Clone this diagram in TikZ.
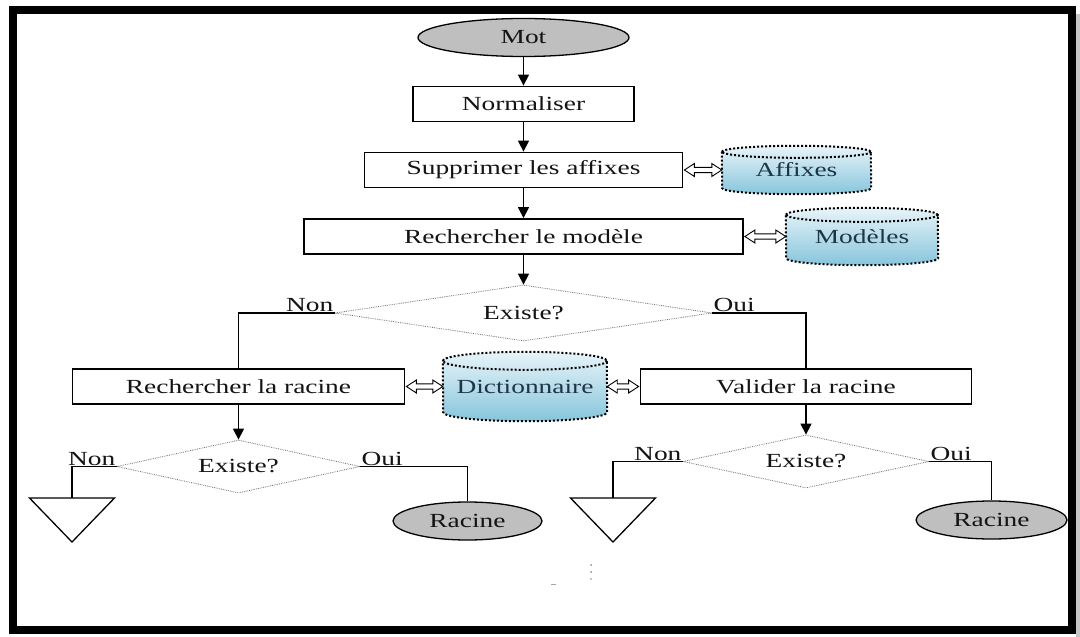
\documentclass[tikz,border=0pt]{standalone}
\usepackage{fontspec}
\usepackage{graphicx}
\setmainfont{Liberation Serif}
\usetikzlibrary{shapes.geometric,arrows.meta,calc}
\pgfdeclarelayer{background}
\pgfsetlayers{background,main}

% widened lettering used throughout the chart
\newcommand\wt[1]{\scalebox{1.37}[1]{#1}}

% database drum drawn around a named node: name, half width, end radius
\newcommand\drum[3]{%
  \begin{pgfonlayer}{background}
    \path[drumfill] ([yshift=-#3]#1.north west)
      arc[start angle=180,end angle=0,x radius=#2,y radius=#3]
      -- ([yshift=#3]#1.south east)
      arc[start angle=0,end angle=-180,x radius=#2,y radius=#3] -- cycle;
  \end{pgfonlayer}
  \draw[drumline] ([yshift=-#3]#1.north east)
    arc[start angle=0,end angle=-180,x radius=#2,y radius=#3];
}

\definecolor{drumtop}{HTML}{E8F4F9}
\definecolor{drumbot}{HTML}{86C5DB}
\definecolor{drumtext}{HTML}{1E3545}

\tikzset{
  every node/.style={font=\fontsize{20}{24}\selectfont, text=black!92},
  box/.style={draw, line width=1.8pt, fill=white, minimum height=35pt, inner sep=0pt},
  term/.style={ellipse, draw, line width=1.3pt, fill=gray!50, minimum height=38pt, inner sep=0pt},
  test/.style={diamond, draw=black!55, densely dotted, line width=0.8pt,
               shape aspect=4.5, inner sep=0pt},
  store/.style={inner sep=0pt, text=drumtext},
  drumfill/.style={draw, line width=2pt, dash pattern=on 2pt off 2pt,
                   top color=drumtop, bottom color=drumbot},
  drumline/.style={line width=2pt, dash pattern=on 2pt off 2pt},
  flow/.style={line width=1.4pt, -{Triangle[length=11pt,width=11pt]}},
  wire/.style={line width=1.4pt},
  % hollow two-headed arrow between two horizontally aligned points
  link/.style={draw, line width=0.9pt, fill=white, line join=miter,
    to path={let \p1=(\tikztostart), \p2=(\tikztotarget) in
      (\x1,\y1) -- (\x1+10pt,\y1+6.5pt) -- (\x1+10pt,\y1+2.6pt)
      -- (\x2-10pt,\y1+2.6pt) -- (\x2-10pt,\y1+6.5pt) -- (\x2,\y1)
      -- (\x2-10pt,\y1-6.5pt) -- (\x2-10pt,\y1-2.6pt)
      -- (\x1+10pt,\y1-2.6pt) -- (\x1+10pt,\y1-6.5pt) -- cycle}},
  lbl/.style={inner sep=1pt},
  sink/.style={line width=1.3pt, line join=miter}
}

\begin{document}
\begin{tikzpicture}[x=1pt,y=-1pt]
  \useasboundingbox (0,0) rectangle (1080,637);
  \begin{pgfonlayer}{background}
    \fill[white] (0,0) rectangle (1080,637);
  \end{pgfonlayer}

  % outer frame with a light shadow
  \fill[gray!45] (1076,14) rectangle (1080,637);
  \draw[line width=8pt] (13,9.5) rectangle (1072,630);

  % main column
  \node[term, minimum width=211pt] (mot) at (523.5,37.5) {\wt{Mot}};
  \node[box, minimum width=221pt] (norm) at (523.5,104) {\wt{Normaliser}};
  \node[box, minimum width=318pt] (supp) at (523.5,170) {\wt{Supprimer les affixes}};
  \node[box, minimum width=439pt] (rmod) at (523.5,236.5) {\wt{Rechercher le modèle}};
  \node[test, minimum width=377pt, minimum height=56pt] (ex1) at (523.5,313) {\wt{Existe?}};

  % data stores
  \node[store, minimum width=149pt, minimum height=48pt] (aff) at (796.5,170) {\wt{Affixes}};
  \node[store, minimum width=152pt, minimum height=57pt] (mods) at (862,236.5) {\wt{Modèles}};
  \node[store, minimum width=164pt, minimum height=69pt] (dict) at (525,386.5) {\wt{Dictionnaire}};
  \drum{aff}{74.5pt}{6pt}
  \drum{mods}{76pt}{7pt}
  \drum{dict}{82pt}{9pt}

  % second row
  \node[box, minimum width=332pt] (rrac) at (238.5,386.5) {\wt{Rechercher la racine}};
  \node[box, minimum width=331pt] (vrac) at (806,386.5) {\wt{Valider la racine}};

  % third row
  \node[test, minimum width=243pt, minimum height=53pt] (ex2) at (238.5,466.5) {\wt{Existe?}};
  \node[test, minimum width=246pt, minimum height=53pt] (ex3) at (806,461.5) {\wt{Existe?}};
  \node[term, minimum width=149pt] (rac1) at (467.5,521) {\wt{Racine}};
  \node[term, minimum width=151pt] (rac2) at (991.5,520) {\wt{Racine}};
  \coordinate (tri1) at (72,498);
  \coordinate (tri2) at (613,498);
  \draw[sink] ([xshift=-42.5pt]tri1) -- ([xshift=42.5pt]tri1) -- ([yshift=-44pt]tri1) -- cycle;
  \draw[sink] ([xshift=-42.5pt]tri2) -- ([xshift=42.5pt]tri2) -- ([yshift=-44pt]tri2) -- cycle;

  % branch labels
  \node[lbl, anchor=south east] (n1) at (ex1.west) {\wt{Non}};
  \node[lbl, anchor=south west] (o1) at (ex1.east) {\wt{Oui}};
  \node[lbl, anchor=south east] (n2) at (ex2.west) {\wt{Non}};
  \node[lbl, anchor=south west] (o2) at (ex2.east) {\wt{Oui}};
  \node[lbl, anchor=south east] (n3) at (ex3.west) {\wt{Non}};
  \node[lbl, anchor=south west] (o3) at (ex3.east) {\wt{Oui}};

  % flow
  \draw[flow] (mot) -- (norm);
  \draw[flow] (norm) -- (supp);
  \draw[flow] (supp) -- (rmod);
  \draw[flow] (rmod) -- (ex1.north);
  \draw[wire] (ex1.west) -| (rrac.north);
  \draw[wire] (ex1.east) -| (vrac.north);
  \draw[flow] (rrac) -- (ex2.north);
  \draw[flow] (vrac) -- (ex3.north);
  \draw[wire] (ex2.west) -| (tri1);
  \draw[wire] (ex2.east) -| (rac1.north);
  \draw[wire] (ex3.west) -| (tri2);
  \draw[wire] (ex3.east) -| (rac2.north);

  % store access
  \path[link] ([xshift=1pt]supp.east) to (aff.west);
  \path[link] ([xshift=1pt]rmod.east) to (mods.west);
  \path[link] ([xshift=1pt]rrac.east) to (dict.west);
  \path[link] (dict.east) to ([xshift=-1pt]vrac.west);

  % stray specks below the chart
  \fill[black!45] (591,565) circle (1pt) (591,572) circle (1pt) (591,579) circle (0.8pt);
  \draw[black!35, line width=0.8pt] (551,584) -- (556,584);
\end{tikzpicture}
\end{document}
